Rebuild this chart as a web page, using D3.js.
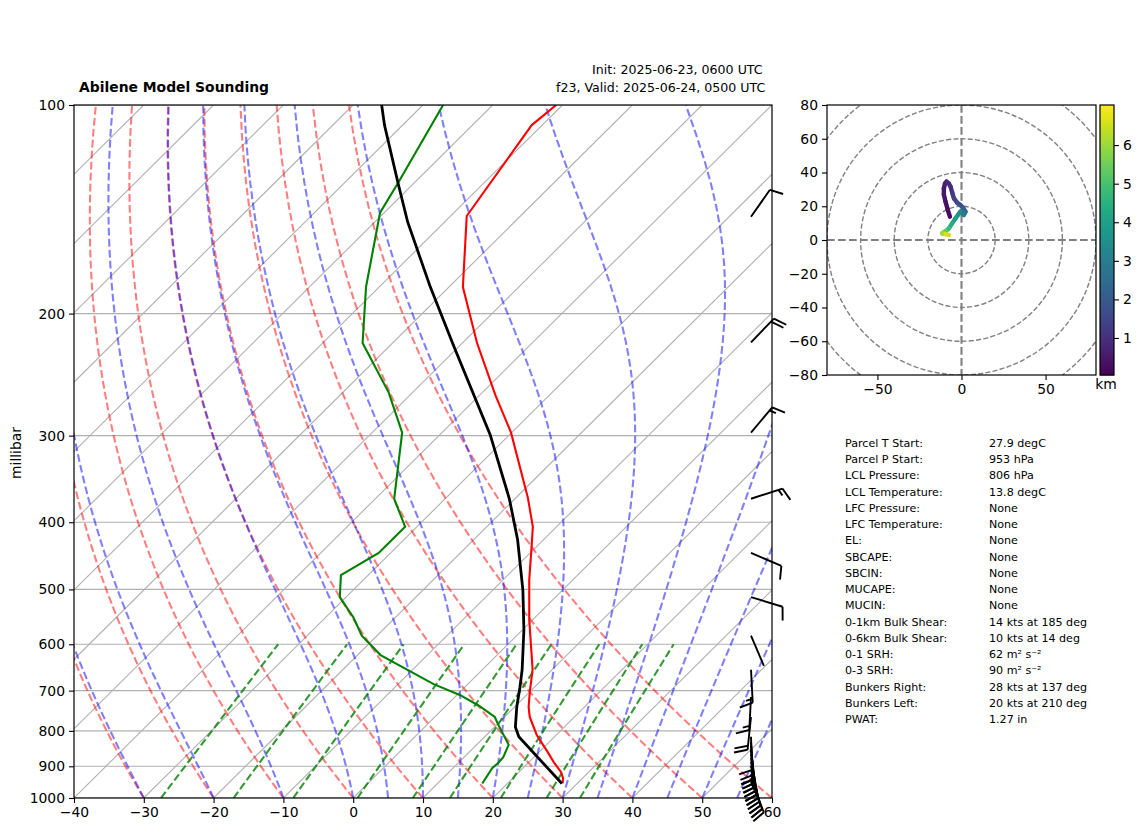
<![CDATA[<!DOCTYPE html>
<html>
<head>
<meta charset="utf-8">
<script src="https://d3js.org/d3.v7.min.js"></script>
<style>
  body { margin: 0; background: #fff; }
  svg { display: block; }
  text { font-family: "DejaVu Sans", sans-serif; fill: #000; }
  .domain { display: none; }
</style>
</head>
<body>
<div id="chart"></div>
<script>
var svgWidth = 1142;
var svgHeight = 834;
var font = 13.9;

// plot boxes in page pixels
var skew = { left: 74, right: 772, top: 105, bottom: 798 };
var hodo = { left: 827, right: 1096, top: 105, bottom: 375 };
var cbar = { left: 1100, right: 1114, top: 105, bottom: 375 };

// temperature profile [hPa, degC]
var tempData = [
  [100, -70.9], [106.9, -71.5], [144.6, -67.7], [183.1, -58], [220.5, -47.9],
  [262, -37.8], [297, -30.1], [368, -18.4], [406, -13.4], [436, -10.5], [485, -6.2],
  [553, -0.5], [653, 7.2], [703, 10], [739, 12], [764, 13.6], [811, 17.2],
  [858, 21.2], [887, 23.5], [917, 26], [936, 27.2], [953, 27.9]
];
// dewpoint profile
var dewData = [
  [100, -87.1], [129.6, -82.3], [143, -80.6], [183, -71.9], [220.5, -64.3], [260, -53.4],
  [297, -45.7], [370, -37.3], [406, -31.7], [443, -31.7], [477, -33.9], [513, -30.9],
  [549, -26], [583, -22.2], [622, -16.7], [685, -4.9], [710, 0.4], [736, 4.7],
  [764, 8.6], [785, 10.3], [838, 14.6], [873, 15.6], [890, 15.7], [905, 15.6], [953, 16.4]
];
// parcel path
var parcelData = [
  [100, -95.9], [106.9, -92.6], [129.6, -82.3], [147.5, -75.3], [183, -62.7],
  [223.5, -50.6], [299, -32.8], [370, -20.8], [424, -13.7], [501, -5.7], [572, 0.2],
  [653, 5.7], [692, 7.9], [739, 10.3], [790, 13], [816, 14.9], [953, 27.8]
];
// wind barbs: staff compass direction (deg) and speed (kts)
var barbData = [
  { p: 145, dir: 35, spd: 10 }, { p: 220, dir: 44, spd: 20 }, { p: 297, dir: 40, spd: 15 },
  { p: 370, dir: 72, spd: 15 }, { p: 443, dir: 113, spd: 10 }, { p: 513, dir: 107, spd: 10 },
  { p: 583, dir: 157, spd: 3 }, { p: 653, dir: 177, spd: 15 }, { p: 715, dir: 183, spd: 15 },
  { p: 764, dir: 186, spd: 20 }, { p: 816, dir: 178, spd: 10 }, { p: 830, dir: 176, spd: 10 },
  { p: 841, dir: 175, spd: 10 }, { p: 853, dir: 173, spd: 20 }, { p: 864, dir: 172, spd: 20 },
  { p: 876, dir: 170, spd: 20 }, { p: 887, dir: 169, spd: 20 }, { p: 899, dir: 167, spd: 20 },
  { p: 911, dir: 165, spd: 20 }, { p: 923, dir: 163, spd: 20 }, { p: 936, dir: 160, spd: 20 },
  { p: 948, dir: 157, spd: 20 }
];
// hodograph u, v (kts) and height (km)
var hodoData = [
  [-6.9, 13.8, 0.1], [-8.2, 18, 0.2], [-9.5, 22.7, 0.3], [-10.5, 27, 0.4], [-10.5, 30.6, 0.5],
  [-9.8, 33.5, 0.6], [-8.9, 34.6, 0.7], [-7.6, 33.5, 0.8], [-6.5, 31.6, 0.9], [-5.5, 28, 1],
  [-4.5, 24.7, 1.2], [-2.5, 22, 1.4], [-0.6, 20.7, 1.6], [1, 19, 1.8], [2.4, 16.8, 2.1],
  [1.4, 14.8, 2.5], [-0.6, 16.8, 3], [-2, 15, 3.3], [-3.6, 12.8, 3.6], [-5.5, 10, 4],
  [-7.5, 6.9, 4.4], [-9.5, 5.2, 4.9], [-11.5, 4, 5.4], [-9.5, 3.5, 6], [-7.5, 3, 6.6]
];
var tableData = [
  ["Parcel T Start:", "27.9 degC"], ["Parcel P Start:", "953 hPa"], ["LCL Pressure:", "806 hPa"],
  ["LCL Temperature:", "13.8 degC"], ["LFC Pressure:", "None"], ["LFC Temperature:", "None"],
  ["EL:", "None"], ["SBCAPE:", "None"], ["SBCIN:", "None"], ["MUCAPE:", "None"], ["MUCIN:", "None"],
  ["0-1km Bulk Shear:", "14 kts at 185 deg"], ["0-6km Bulk Shear:", "10 kts at 14 deg"],
  ["0-1 SRH:", "62 m\u00b2 s\u207b\u00b2"], ["0-3 SRH:", "90 m\u00b2 s\u207b\u00b2"],
  ["Bunkers Right:", "28 kts at 137 deg"], ["Bunkers Left:", "20 kts at 210 deg"], ["PWAT:", "1.27 in"]
];

var svg = d3.select("#chart")
  .append("svg")
  .attr("width", svgWidth)
  .attr("height", svgHeight);

svg.append("clipPath").attr("id", "skewClip")
  .append("rect")
  .attr("x", skew.left).attr("y", skew.top)
  .attr("width", skew.right - skew.left).attr("height", skew.bottom - skew.top);
svg.append("clipPath").attr("id", "hodoClip")
  .append("rect")
  .attr("x", hodo.left).attr("y", hodo.top)
  .attr("width", hodo.right - hodo.left).attr("height", hodo.bottom - hodo.top);

var xScale = d3.scaleLinear().domain([-40, 60]).range([skew.left, skew.right]);
var yScale = d3.scaleLog().domain([100, 1000]).range([skew.top, skew.bottom]);

// 45 degree skew, box is not quite square so a touch over one pixel per pixel
function skewX(t, p) {
  return xScale(t) + 1.007 * (skew.bottom - yScale(p));
}
var skewLine = d3.line()
  .x(d => skewX(d[1], d[0]))
  .y(d => yScale(d[0]));

var plot = svg.append("g").attr("clip-path", "url(#skewClip)");

var pTicks = [100, 200, 300, 400, 500, 600, 700, 800, 900, 1000];

// isobars and isotherms
plot.selectAll(".isobar")
  .data(pTicks)
  .enter()
  .append("line")
  .attr("x1", skew.left).attr("x2", skew.right)
  .attr("y1", d => yScale(d)).attr("y2", d => yScale(d))
  .attr("stroke", "#b0b0b0").attr("stroke-width", 1.1);

plot.selectAll(".isotherm")
  .data(d3.range(-140, 61, 10))
  .enter()
  .append("line")
  .attr("x1", d => skewX(d, 1000)).attr("y1", yScale(1000))
  .attr("x2", d => skewX(d, 100)).attr("y2", yScale(100))
  .attr("stroke", "#b0b0b0").attr("stroke-width", 1.1);

// thermodynamic background lines
var pLevels = d3.range(1000, 99, -10);

function satVapor(tc) {
  return 6.112 * Math.exp(17.67 * tc / (tc + 243.5));
}
function dryLine(t0) {
  return pLevels.map(function(p) {
    return [p, (t0 + 273.15) * Math.pow(p / 1000, 0.2857) - 273.15];
  });
}
function moistSlope(p, tk) {
  var es = satVapor(tk - 273.15);
  var rs = 0.622 * es / (p - es);
  var lv = 2.501e6, rd = 287.05, cp = 1005;
  return (rd * tk + lv * rs) / (cp + lv * lv * rs * 0.622 / (rd * tk * tk)) / p;
}
function moistLine(t0) {
  var tk = t0 + 273.15;
  var out = [[1000, t0]];
  for (var i = 1; i < pLevels.length; i++) {
    var p = pLevels[i - 1];
    var h = pLevels[i] - p;
    var k1 = moistSlope(p, tk);
    var k2 = moistSlope(p + h / 2, tk + h * k1 / 2);
    var k3 = moistSlope(p + h / 2, tk + h * k2 / 2);
    var k4 = moistSlope(p + h, tk + h * k3);
    tk += h * (k1 + 2 * k2 + 2 * k3 + k4) / 6;
    out.push([pLevels[i], tk - 273.15]);
  }
  return out;
}
function mixingLine(w) {
  return d3.range(1000, 599, -10).map(function(p) {
    var a = Math.log(p * w / (0.622 + w) / 6.112);
    return [p, 243.5 * a / (17.67 - a)];
  });
}

plot.selectAll(".dry")
  .data(d3.range(-40, 61, 10))
  .enter()
  .append("path")
  .attr("d", d => skewLine(dryLine(d)))
  .attr("fill", "none").attr("stroke", "#ff0000").attr("stroke-opacity", 0.5)
  .attr("stroke-width", 2.1).attr("stroke-dasharray", "7.7,3.3");

plot.selectAll(".moist")
  .data(d3.range(-40, 1, 10).concat(d3.range(5, 61, 5)))
  .enter()
  .append("path")
  .attr("d", d => skewLine(moistLine(d)))
  .attr("fill", "none").attr("stroke", "#0000ff").attr("stroke-opacity", 0.5)
  .attr("stroke-width", 2.1).attr("stroke-dasharray", "7.7,3.3");

plot.selectAll(".mixing")
  .data([0.0004, 0.001, 0.002, 0.004, 0.007, 0.01, 0.016, 0.024, 0.032])
  .enter()
  .append("path")
  .attr("d", d => skewLine(mixingLine(d)))
  .attr("fill", "none").attr("stroke", "#008000").attr("stroke-opacity", 0.8)
  .attr("stroke-width", 2.1).attr("stroke-dasharray", "7.7,3.3");

// soundings
plot.append("path").attr("d", skewLine(tempData))
  .attr("fill", "none").attr("stroke", "#ff0000").attr("stroke-width", 2.1);
plot.append("path").attr("d", skewLine(dewData))
  .attr("fill", "none").attr("stroke", "#008000").attr("stroke-width", 2.1);
plot.append("path").attr("d", skewLine(parcelData))
  .attr("fill", "none").attr("stroke", "#000000").attr("stroke-width", 2.8);

// wind barbs
var barbX = 751;
var barbLen = 33;

function barbPath(d) {
  var a = d.dir * Math.PI / 180;
  var ux = Math.sin(a), uy = -Math.cos(a);
  var y0 = yScale(d.p);
  var ex = barbX + ux * barbLen, ey = y0 + uy * barbLen;
  var out = "M" + barbX + "," + y0 + "L" + ex + "," + ey;
  var pos = 0;
  var full = Math.floor(d.spd / 10);
  var half = d.spd % 10 >= 5;
  function feather(size) {
    var bx = ex - ux * pos, by = ey - uy * pos;
    out += "M" + bx + "," + by + "L" +
      (bx - uy * barbLen * 0.4 * size + ux * barbLen * 0.125 * size) + "," +
      (by + ux * barbLen * 0.4 * size + uy * barbLen * 0.125 * size);
  }
  for (var i = 0; i < full; i++) {
    feather(1);
    pos += barbLen * 0.125;
  }
  if (half) {
    if (full === 0) pos += barbLen * 0.125;
    feather(0.5);
  }
  return out;
}

svg.append("g").selectAll("path")
  .data(barbData)
  .enter()
  .append("path")
  .attr("d", barbPath)
  .attr("fill", "none").attr("stroke", "#000").attr("stroke-width", 1.9);

// skew-T frame and axes
svg.append("rect")
  .attr("x", skew.left).attr("y", skew.top)
  .attr("width", skew.right - skew.left).attr("height", skew.bottom - skew.top)
  .attr("fill", "none").attr("stroke", "#000").attr("stroke-width", 1.2);

function styleAxis(g) {
  g.selectAll("text").style("font-size", font + "px").style("font-family", "DejaVu Sans");
  g.selectAll("line").attr("stroke", "#000").attr("stroke-width", 1.1);
}

svg.append("g")
  .attr("transform", `translate(0, ${skew.bottom})`)
  .call(d3.axisBottom(xScale).tickValues(d3.range(-40, 61, 10)).tickFormat(d => d < 0 ? "\u2212" + (-d) : d).tickSize(5).tickPadding(4))
  .call(styleAxis);

svg.append("g")
  .attr("transform", `translate(${skew.left}, 0)`)
  .call(d3.axisLeft(yScale).tickValues(pTicks).tickFormat(d => d).tickSize(5).tickPadding(4))
  .call(styleAxis);

svg.append("text")
  .attr("transform", "translate(21, 453) rotate(-90)")
  .attr("text-anchor", "middle")
  .style("font-size", font + "px")
  .text("millibar");

svg.append("text")
  .attr("x", 79).attr("y", 92)
  .style("font-size", font + "px").style("font-weight", "bold")
  .text("Abilene Model Sounding");
svg.append("text")
  .attr("x", 592).attr("y", 74)
  .style("font-size", "12.6px")
  .text("Init: 2025-06-23, 0600 UTC");
svg.append("text")
  .attr("x", 556).attr("y", 92)
  .style("font-size", "12.6px")
  .text("f23, Valid: 2025-06-24, 0500 UTC");

// hodograph
var uScale = d3.scaleLinear().domain([-80, 80]).range([hodo.left, hodo.right]);
var vScale = d3.scaleLinear().domain([-80, 80]).range([hodo.bottom, hodo.top]);
var hgtScale = d3.scaleLinear().domain([0.04, 7.04]).range([cbar.bottom, cbar.top]);
var hgtColor = d3.scaleSequential(d3.interpolateViridis).domain([0.04, 7.04]);

var hodoPlot = svg.append("g").attr("clip-path", "url(#hodoClip)");

hodoPlot.selectAll("ellipse")
  .data([20, 40, 60, 80, 100])
  .enter()
  .append("ellipse")
  .attr("cx", uScale(0)).attr("cy", vScale(0))
  .attr("rx", d => uScale(d) - uScale(0))
  .attr("ry", d => vScale(0) - vScale(d))
  .attr("fill", "none").attr("stroke", "#808080").attr("stroke-width", 1.4)
  .attr("stroke-dasharray", "5.1,2.2");

hodoPlot.append("line")
  .attr("x1", hodo.left).attr("x2", hodo.right)
  .attr("y1", vScale(0)).attr("y2", vScale(0))
  .attr("stroke", "#808080").attr("stroke-width", 2.1).attr("stroke-dasharray", "7.7,3.3");
hodoPlot.append("line")
  .attr("x1", uScale(0)).attr("x2", uScale(0))
  .attr("y1", hodo.top).attr("y2", hodo.bottom)
  .attr("stroke", "#808080").attr("stroke-width", 2.1).attr("stroke-dasharray", "7.7,3.3");

hodoPlot.selectAll(".seg")
  .data(hodoData.slice(1))
  .enter()
  .append("line")
  .attr("x1", (d, i) => uScale(hodoData[i][0]))
  .attr("y1", (d, i) => vScale(hodoData[i][1]))
  .attr("x2", d => uScale(d[0]))
  .attr("y2", d => vScale(d[1]))
  .attr("stroke", d => hgtColor(d[2]))
  .attr("stroke-width", 4.4)
  .attr("stroke-linecap", "round");

svg.append("rect")
  .attr("x", hodo.left).attr("y", hodo.top)
  .attr("width", hodo.right - hodo.left).attr("height", hodo.bottom - hodo.top)
  .attr("fill", "none").attr("stroke", "#000").attr("stroke-width", 1.2);

svg.append("g")
  .attr("transform", `translate(0, ${hodo.bottom})`)
  .call(d3.axisBottom(uScale).tickValues([-50, 0, 50]).tickFormat(d => d < 0 ? "\u2212" + (-d) : d).tickSize(5).tickPadding(4))
  .call(styleAxis);
svg.append("g")
  .attr("transform", `translate(${hodo.left}, 0)`)
  .call(d3.axisLeft(vScale).tickValues(d3.range(-80, 81, 20)).tickFormat(d => d < 0 ? "\u2212" + (-d) : d).tickSize(5).tickPadding(4))
  .call(styleAxis);

// colorbar
svg.append("g").selectAll("rect")
  .data(d3.range(cbar.top, cbar.bottom))
  .enter()
  .append("rect")
  .attr("x", cbar.left).attr("y", d => d)
  .attr("width", cbar.right - cbar.left).attr("height", 1.5)
  .attr("fill", d => hgtColor(hgtScale.invert(d + 0.5)));
svg.append("rect")
  .attr("x", cbar.left).attr("y", cbar.top)
  .attr("width", cbar.right - cbar.left).attr("height", cbar.bottom - cbar.top)
  .attr("fill", "none").attr("stroke", "#000").attr("stroke-width", 1.2);
svg.append("g")
  .attr("transform", `translate(${cbar.right}, 0)`)
  .call(d3.axisRight(hgtScale).tickValues([1, 2, 3, 4, 5, 6]).tickFormat(d => d).tickSize(5).tickPadding(4))
  .call(styleAxis);
svg.append("text")
  .attr("x", 1106).attr("y", 389)
  .attr("text-anchor", "middle")
  .style("font-size", font + "px")
  .text("km");

// parcel table
var rowY = d3.scaleLinear().domain([0, 17]).range([447, 723]);
var rows = svg.append("g").selectAll("g")
  .data(tableData)
  .enter()
  .append("g")
  .attr("transform", (d, i) => `translate(0, ${rowY(i)})`);
rows.append("text").attr("x", 845).style("font-size", "11.1px").text(d => d[0]);
rows.append("text").attr("x", 989).style("font-size", "11.1px").text(d => d[1]);
</script>
</body>
</html>
]]>
